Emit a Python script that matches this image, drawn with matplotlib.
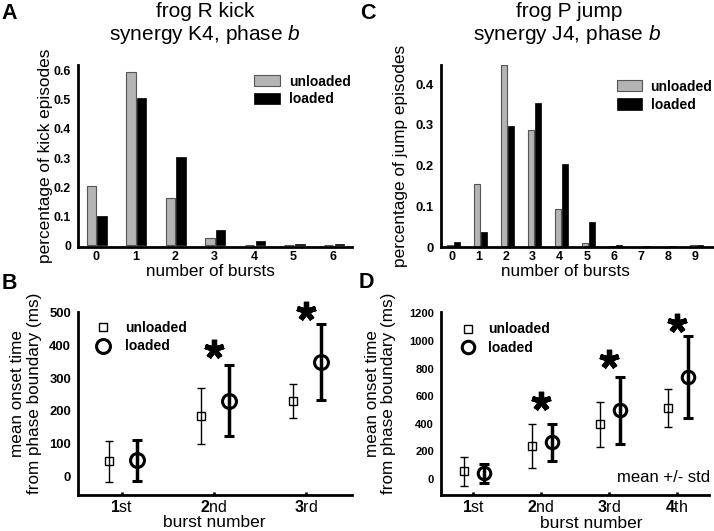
import numpy as np
import matplotlib
matplotlib.use('Agg')
from matplotlib import pyplot as plt
from matplotlib.lines import Line2D

plt.rcParams['font.family'] = ['Liberation Sans', 'DejaVu Sans']
plt.rcParams['mathtext.fontset'] = 'custom'
plt.rcParams['mathtext.rm'] = 'Liberation Sans'
plt.rcParams['mathtext.it'] = 'Liberation Sans:italic'
plt.rcParams['mathtext.bf'] = 'Liberation Sans:bold'

# data
kick_bursts = [0, 1, 2, 3, 4, 5, 6]
kick_unloaded = [0.205, 0.595, 0.162, 0.024, 0.0, 0.0, 0.0]
kick_loaded = [0.102, 0.505, 0.303, 0.054, 0.016, 0.005, 0.005]

jump_bursts = [0, 1, 2, 3, 4, 5, 6, 7, 8, 9]
jump_unloaded = [0.004, 0.154, 0.447, 0.287, 0.094, 0.010, 0.003, 0.0, 0.0, 0.004]
jump_loaded = [0.012, 0.038, 0.298, 0.355, 0.204, 0.062, 0.004, 0.003, 0.003, 0.004]

kick_order = ['1', '2', '3']
kick_suffix = ['st', 'nd', 'rd']
kick_unl_mean = [46, 184, 230]
kick_unl_std = [63, 87, 51]
kick_ld_mean = [48, 231, 350]
kick_ld_std = [64, 108, 116]
kick_star_x = [1, 2]
kick_star_y = [390, 507]

jump_order = ['1', '2', '3', '4']
jump_suffix = ['st', 'nd', 'rd', 'th']
jump_unl_mean = [57, 240, 395, 514]
jump_unl_std = [105, 162, 163, 137]
jump_ld_mean = [40, 266, 497, 741]
jump_ld_std = [72, 135, 244, 296]
jump_star_x = [1, 2, 3]
jump_star_y = [562, 868, 1133]

GRAY = '#b4b4b4'
W, H = 714, 531


def px_axes(l, t, r, b):
    return [l / W, 1 - b / H, (r - l) / W, (b - t) / H]


def style(ax, ysize):
    for s in ['top', 'right']:
        ax.spines[s].set_visible(False)
    for s in ['left', 'bottom']:
        ax.spines[s].set_linewidth(2)
    ax.tick_params(axis='y', length=0, pad=5, labelsize=ysize)
    for lab in ax.get_yticklabels():
        lab.set_fontweight('bold')


def fmt0(v, pos):
    return '0' if v == 0 else '%g' % v


fig = plt.figure(figsize=(7.14, 5.31), dpi=100)

# ---- A : kick burst histogram
axA = fig.add_axes(px_axes(78, 65, 352, 247))
x = np.array(kick_bursts)
axA.bar(x - 0.11, kick_unloaded, 0.24, color=GRAY, edgecolor='#555555', linewidth=0.8, label='unloaded')
axA.bar(x + 0.16, kick_loaded, 0.24, color='black', edgecolor='black', linewidth=0.5, label='loaded')
axA.set_xlim(-0.45, 6.48)
axA.set_ylim(-0.006, 0.62)
axA.set_xticks(x)
axA.set_yticks(np.arange(0, 0.61, 0.1))
axA.yaxis.set_major_formatter(plt.FuncFormatter(fmt0))
style(axA, 8.8)
axA.tick_params(axis='x', length=0, pad=3, labelsize=9)
for lab in axA.get_xticklabels() + axA.get_yticklabels():
    lab.set_fontweight('bold')
axA.set_ylabel('percentage of kick episodes', fontsize=12.4, va='center')
axA.yaxis.set_label_coords(-0.12, 0.5)
axA.set_xlabel('number of bursts', fontsize=12.3, va='center')
axA.xaxis.set_label_coords(0.482, -0.137)
axA.legend(loc='upper left', bbox_to_anchor=(0.642, 0.947), frameon=False, borderpad=0, borderaxespad=0,
           handlelength=1.87, handleheight=0.81, handletextpad=0.67, labelspacing=0.25,
           prop={'weight': 'bold', 'size': 10})

# ---- C : jump burst histogram
axC = fig.add_axes(px_axes(441, 65, 713, 247))
x = np.array(jump_bursts)
axC.bar(x - 0.06, jump_unloaded, 0.24, color=GRAY, edgecolor='#555555', linewidth=0.8, label='unloaded')
axC.bar(x + 0.19, jump_loaded, 0.24, color='black', edgecolor='black', linewidth=0.5, label='loaded')
axC.set_xlim(-0.4, 9.68)
axC.set_ylim(0, 0.4475)
axC.set_xticks(x)
axC.set_yticks(np.arange(0, 0.41, 0.1))
axC.yaxis.set_major_formatter(plt.FuncFormatter(fmt0))
style(axC, 9.4)
axC.tick_params(axis='x', length=0, pad=3, labelsize=9)
for lab in axC.get_xticklabels() + axC.get_yticklabels():
    lab.set_fontweight('bold')
axC.set_ylabel('percentage of jump episodes', fontsize=12.4, va='center')
axC.yaxis.set_label_coords(-0.148, 0.5)
axC.set_xlabel('number of bursts', fontsize=12.3, va='center')
axC.xaxis.set_label_coords(0.456, -0.137)
axC.legend(loc='upper left', bbox_to_anchor=(0.648, 0.92), frameon=False, borderpad=0, borderaxespad=0,
           handlelength=1.8, handleheight=0.86, handletextpad=0.6, labelspacing=0.3,
           prop={'weight': 'bold', 'size': 10})


def onset(ax, unl_m, unl_s, ld_m, ld_s, sq_ms, ci_ms, off):
    xx = np.arange(len(unl_m))
    ax.errorbar(xx - off[0], unl_m, yerr=unl_s, fmt='s', ms=sq_ms, mfc='none', mec='black',
                mew=1, ecolor='black', elinewidth=1, capsize=3, capthick=1, clip_on=False)
    ax.errorbar(xx + off[1], ld_m, yerr=ld_s, fmt='o', ms=ci_ms, mfc='none', mec='black',
                mew=2.2, ecolor='black', elinewidth=2.5, capsize=3.3, capthick=2.5, clip_on=False)
    handles = [Line2D([], [], ls='none', marker='s', ms=sq_ms, mfc='none', mec='black', mew=1),
               Line2D([], [], ls='none', marker='o', ms=ci_ms, mfc='none', mec='black', mew=2.2)]
    return handles


# ---- B : kick onset times
axB = fig.add_axes(px_axes(78, 312, 352, 495))
hB = onset(axB, kick_unl_mean, kick_unl_std, kick_ld_mean, kick_ld_std, 6, 10, (0.145, 0.164))
axB.plot(kick_star_x, kick_star_y, ls='none', marker=(5, 2, 0), ms=14, mew=3.8, color='black', clip_on=False)
axB.set_xlim(-0.48, 2.5)
axB.set_ylim(-58, 503)
axB.set_yticks(np.arange(0, 501, 100))
axB.set_xticks(range(len(kick_order)))
axB.set_xticklabels([r'$\mathbf{%s}$%s' % (a, b) for a, b in zip(kick_order, kick_suffix)])
style(axB, 9.4)
axB.tick_params(axis='x', direction='in', length=2.5, width=2, pad=3, labelsize=11.5)
axB.set_ylabel('mean onset time\nfrom phase boundary (ms)', fontsize=12.3, va='center', linespacing=1.1)
axB.yaxis.set_label_coords(-0.19, 0.553)
axB.set_xlabel('burst number', fontsize=12.5, va='center')
axB.xaxis.set_label_coords(0.496, -0.153)
axB.legend(hB, ['unloaded', 'loaded'], loc='upper left', bbox_to_anchor=(0.067, 0.953), frameon=False,
           borderpad=0, borderaxespad=0, handlelength=1.0, handletextpad=1.06, labelspacing=0.35,
           prop={'weight': 'bold', 'size': 10})

# ---- D : jump onset times
axD = fig.add_axes(px_axes(441, 312, 709, 495))
hD = onset(axD, jump_unl_mean, jump_unl_std, jump_ld_mean, jump_ld_std, 5.5, 9, (0.14, 0.16))
axD.plot(jump_star_x, jump_star_y, ls='none', marker=(5, 2, 0), ms=14, mew=3.8, color='black', clip_on=False)
axD.set_xlim(-0.475, 3.47)
axD.set_ylim(-116, 1210)
axD.set_yticks(np.arange(0, 1201, 200))
axD.set_xticks(range(len(jump_order)))
axD.set_xticklabels([r'$\mathbf{%s}$%s' % (a, b) for a, b in zip(jump_order, jump_suffix)])
style(axD, 8)
axD.tick_params(axis='x', direction='in', length=2.5, width=2, pad=3, labelsize=11.5)
axD.set_ylabel('mean onset time\nfrom phase boundary (ms)', fontsize=12.3, va='center', linespacing=1.1)
axD.yaxis.set_label_coords(-0.225, 0.553)
axD.set_xlabel('burst number', fontsize=12.5, va='center')
axD.xaxis.set_label_coords(0.559, -0.155)
axD.legend(hD, ['unloaded', 'loaded'], loc='upper left', bbox_to_anchor=(0.073, 0.943), frameon=False,
           borderpad=0, borderaxespad=0, handlelength=1.0, handletextpad=0.99, labelspacing=0.35,
           prop={'weight': 'bold', 'size': 10})
axD.text(1.004, 0.098, 'mean +/- std', transform=axD.transAxes, ha='right', va='center', fontsize=12)

# titles and panel letters
fig.text(205 / W, 1 - 11.7 / H, 'frog R kick', ha='center', va='center', fontsize=15)
fig.text(205 / W, 1 - 35 / H, 'synergy K4, phase $b$', ha='center', va='center', fontsize=15)
fig.text(569 / W, 1 - 11.7 / H, 'frog P jump', ha='center', va='center', fontsize=15)
fig.text(566.7 / W, 1 - 35 / H, 'synergy J4, phase $b$', ha='center', va='center', fontsize=15)
for letter, lx, ly in [('A', 9.2, 13.3), ('B', 9.2, 283.3), ('C', 367.5, 13.5), ('D', 366.5, 283.0)]:
    fig.text(lx / W, 1 - ly / H, letter, ha='center', va='center', fontsize=15.5, fontweight='bold')

fig.savefig('out.png', dpi=100)
